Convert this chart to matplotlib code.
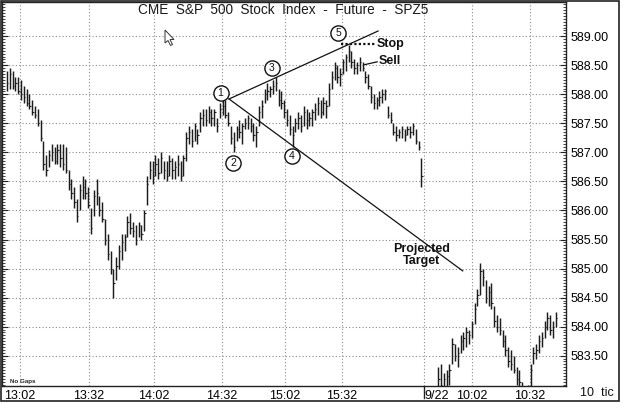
import numpy as np
import matplotlib
matplotlib.use("Agg")
import matplotlib.pyplot as plt
from matplotlib.ticker import FixedLocator, MultipleLocator
from matplotlib.patches import Rectangle, Polygon
import matplotlib.transforms as mtrans

plt.rcParams['font.family'] = ['Liberation Sans', 'DejaVu Sans']

# ---------------- data: 10-tick bars, SPZ5 ----------------
s1_high = [
    588.40, 588.45, 588.40, 588.30, 588.30, 588.25, 588.15, 588.10, 588.00, 587.90,
    587.80, 587.75, 587.55, 587.20, 586.95, 587.05, 587.15, 587.10, 587.15, 587.15,
    587.15, 587.10, 586.70, 586.55, 586.40, 586.20, 586.45, 586.60, 586.55, 586.40,
    586.05, 586.35, 586.55, 586.25, 586.15, 585.85, 585.60, 585.30, 585.00, 585.20,
    585.40, 585.60, 585.60, 585.90, 585.95, 585.80, 585.75, 585.80, 585.75, 586.00,
    586.60, 586.85, 586.85, 586.95, 586.90, 587.00, 586.85, 586.85, 586.95, 586.90,
    586.85, 586.95, 586.85, 586.95, 587.35, 587.45, 587.40, 587.50, 587.40, 587.70,
    587.75, 587.75, 587.80, 587.75, 587.75, 587.60, 587.85, 587.95, 587.90, 587.70,
    587.45, 587.35, 587.45, 587.55, 587.50, 587.60, 587.65, 587.60, 587.50, 587.45,
    587.80, 587.90, 588.10, 588.20, 588.15, 588.25, 588.30, 588.10, 588.05, 587.90,
    587.75, 587.65, 587.45, 587.60, 587.70, 587.65, 587.80, 587.75, 587.70, 587.75,
    587.85, 587.95, 587.90, 587.95, 587.90, 588.20, 588.40, 588.55, 588.50, 588.45,
    588.60, 588.70, 588.85, 588.75, 588.60, 588.55, 588.65, 588.55, 588.40, 588.35,
    588.15, 588.00, 587.95, 588.05, 588.10, 588.10, 587.80, 587.70, 587.50, 587.45,
    587.40, 587.45, 587.40, 587.45, 587.45, 587.50, 587.40, 587.20, 586.90]
s1_low = [
    588.05, 588.10, 588.10, 588.05, 588.00, 587.90, 587.85, 587.80, 587.75, 587.65,
    587.60, 587.45, 587.20, 586.70, 586.60, 586.75, 586.85, 586.80, 586.80, 586.75,
    586.70, 586.65, 586.35, 586.20, 586.05, 585.80, 586.00, 586.20, 586.20, 586.05,
    585.60, 585.90, 586.10, 585.90, 585.80, 585.40, 585.15, 584.90, 584.50, 584.80,
    585.00, 585.15, 585.30, 585.55, 585.60, 585.55, 585.40, 585.55, 585.50, 585.65,
    586.10, 586.55, 586.45, 586.60, 586.55, 586.65, 586.55, 586.50, 586.60, 586.55,
    586.55, 586.60, 586.50, 586.60, 586.85, 587.15, 587.10, 587.20, 587.15, 587.35,
    587.45, 587.45, 587.50, 587.45, 587.45, 587.35, 587.60, 587.65, 587.60, 587.45,
    587.15, 587.00, 587.20, 587.25, 587.15, 587.40, 587.40, 587.35, 587.20, 587.10,
    587.45, 587.60, 587.85, 587.90, 587.95, 588.00, 588.05, 587.80, 587.75, 587.60,
    587.45, 587.30, 587.10, 587.35, 587.40, 587.35, 587.45, 587.40, 587.45, 587.45,
    587.55, 587.65, 587.60, 587.65, 587.60, 587.80, 588.10, 588.25, 588.20, 588.15,
    588.35, 588.40, 588.55, 588.45, 588.35, 588.35, 588.40, 588.40, 588.20, 588.10,
    587.85, 587.75, 587.75, 587.80, 587.85, 587.90, 587.60, 587.50, 587.30, 587.20,
    587.25, 587.25, 587.20, 587.30, 587.25, 587.30, 587.15, 587.05, 586.40]
s1_close = [
    588.20, 588.35, 588.15, 588.20, 588.05, 588.00, 587.95, 587.85, 587.80, 587.70,
    587.65, 587.50, 587.25, 586.80, 586.70, 586.95, 587.00, 586.85, 587.05, 586.90,
    586.80, 586.70, 586.45, 586.30, 586.15, 585.90, 586.35, 586.40, 586.30, 586.10,
    585.70, 586.25, 586.30, 586.00, 585.85, 585.50, 585.25, 585.00, 584.75, 585.05,
    585.30, 585.45, 585.55, 585.80, 585.70, 585.65, 585.50, 585.75, 585.60, 585.95,
    586.45, 586.70, 586.60, 586.80, 586.65, 586.90, 586.70, 586.60, 586.85, 586.70,
    586.75, 586.80, 586.60, 586.90, 587.25, 587.35, 587.20, 587.45, 587.30, 587.60,
    587.65, 587.55, 587.70, 587.60, 587.70, 587.45, 587.75, 587.80, 587.65, 587.50,
    587.25, 587.10, 587.40, 587.35, 587.45, 587.50, 587.60, 587.45, 587.30, 587.35,
    587.70, 587.80, 588.00, 588.05, 588.10, 588.15, 588.20, 587.90, 587.85, 587.70,
    587.55, 587.40, 587.30, 587.50, 587.60, 587.45, 587.70, 587.55, 587.60, 587.70,
    587.75, 587.85, 587.70, 587.85, 587.80, 588.10, 588.30, 588.45, 588.30, 588.35,
    588.55, 588.65, 588.75, 588.55, 588.45, 588.50, 588.55, 588.45, 588.30, 588.15,
    587.95, 587.85, 587.90, 587.95, 588.00, 588.05, 587.65, 587.55, 587.35, 587.30,
    587.35, 587.40, 587.30, 587.40, 587.35, 587.45, 587.20, 587.10, 586.60]

s2_high = [
    583.30, 583.35, 583.20, 583.25, 583.35, 583.80, 583.70, 583.65, 583.85, 583.90,
    584.00, 583.95, 584.10, 584.40, 584.65, 585.10, 585.00, 584.80, 584.70, 584.75,
    584.35, 584.20, 584.15, 583.95, 583.85, 583.65, 583.60, 583.50, 583.30, 583.25,
    583.05, 582.95, 583.00, 583.35, 583.65, 583.70, 583.85, 583.90, 584.10, 584.25,
    584.20, 584.10, 584.25]
s2_low = [
    582.90, 582.95, 582.90, 582.95, 583.00, 583.35, 583.40, 583.30, 583.55, 583.60,
    583.65, 583.70, 583.80, 584.05, 584.35, 584.55, 584.70, 584.40, 584.35, 584.30,
    584.00, 583.90, 583.85, 583.65, 583.50, 583.30, 583.25, 583.20, 583.00, 582.95,
    582.75, 582.70, 582.75, 582.95, 583.35, 583.45, 583.55, 583.65, 583.80, 583.95,
    583.85, 583.80, 584.00]
s2_close = [
    583.10, 583.00, 583.10, 583.15, 583.25, 583.70, 583.50, 583.55, 583.75, 583.80,
    583.90, 583.85, 584.05, 584.30, 584.55, 584.95, 584.85, 584.50, 584.60, 584.40,
    584.10, 584.00, 583.95, 583.75, 583.60, 583.40, 583.35, 583.25, 583.10, 583.05,
    582.85, 582.80, 582.90, 583.25, 583.55, 583.60, 583.75, 583.80, 584.00, 584.15,
    583.95, 584.00, 584.15]

session_gap = 5  # empty bar slots between the two sessions

time_labels = ["13:02", "13:32", "14:02", "14:32", "15:02", "15:32", "9/22", "10:02", "10:32"]
time_bar_pos = [4.6, 29.3, 52.5, 76.8, 99.3, 119.6, 148.9, 166.1, 186.8]

price_ticks = [583.5, 584.0, 584.5, 585.0, 585.5, 586.0, 586.5, 587.0, 587.5, 588.0, 588.5, 589.0]

# Elliott wave annotation (bar position, price)
wave_names = ["1", "2", "3", "4", "5"]
wave_pos = [76.25, 80.8, 94.5, 101.7, 118.3]
wave_price = [588.03, 586.81, 588.45, 586.93, 589.05]
wedge_apex = (79.3, 587.92)
wedge_upper_end = (132.5, 589.09)
wedge_lower_end = (162.75, 584.96)
stop_price = 588.87
stop_span = (119.3, 131.8)
sell_line = [(127.6, 588.51), (132.2, 588.56)]
sell_text = (132.6, 588.57)
target_text = (148.2, 585.23)

# ---------------- figure ----------------
W, H = 625, 403
fig = plt.figure(figsize=(W / 100, H / 100), dpi=100)
fig.patch.set_facecolor("white")
ax = fig.add_axes([2 / W, 1 - 386 / H, 564 / W, 384 / H])

pos1 = np.arange(len(s1_high))
pos2 = np.arange(len(s2_high)) + len(s1_high) + session_gap
pos = np.concatenate([pos1, pos2])
hi = np.array(s1_high + s2_high)
lo = np.array(s1_low + s2_low)
cl = np.array(s1_close + s2_close)

bar_col = "#1c1c1c"
ax.vlines(pos, lo, hi, color=bar_col, lw=1.05, zorder=3)
ax.hlines(cl, pos, pos + 0.5, color=bar_col, lw=0.8, zorder=3)

ax.set_xlim(-1.79, 199.64)
ax.set_ylim(582.978, 589.59)

# grid
grid_kw = dict(color="#8a8a8a", lw=0.8, ls=(0, (1, 2)), zorder=1)
for p in price_ticks:
    ax.axhline(p, **grid_kw)
for t in time_bar_pos:
    ax.axvline(t, **grid_kw)

# axes ticks
ax.yaxis.set_major_locator(FixedLocator(price_ticks))
ax.yaxis.set_minor_locator(MultipleLocator(0.05))
ax.yaxis.set_major_formatter(matplotlib.ticker.FuncFormatter(lambda v, p: f"{v:.2f}"))
ax.tick_params(axis="y", which="both", direction="in", left=True, right=True,
               labelleft=False, labelright=True, labelsize=9, pad=3, color="#222")
ax.tick_params(axis="y", which="major", length=4, width=0.8)
ax.tick_params(axis="y", which="minor", length=2.5, width=0.6)

ax.xaxis.set_major_locator(FixedLocator(time_bar_pos))
ax.set_xticklabels(time_labels)
ax.tick_params(axis="x", which="both", length=0, labelsize=9, pad=3)
for lab, txt in zip(ax.get_xticklabels(), time_labels):
    if txt == "9/22":
        lab.set_ha("left")
# session separator tick below the axis
sep_x = time_bar_pos[time_labels.index("9/22")]
trans = mtrans.blended_transform_factory(ax.transData, ax.transAxes)
ax.plot([sep_x, sep_x], [0, -0.03], transform=trans, color="#222", lw=1.0, clip_on=False)

for s in ax.spines.values():
    s.set_color("#222")
    s.set_linewidth(1.0)

# title
ax.text(0.5 * (135 + 432) / 564 - 2 / 564, 1 - 8.5 / 384,
        "CME  S&P  500  Stock  Index  -  Future  -  SPZ5",
        transform=ax.transAxes, ha="center", va="center", fontsize=9.8, color="#1a1a1a")

# wedge lines
ax.plot([wedge_apex[0], wedge_upper_end[0]], [wedge_apex[1], wedge_upper_end[1]],
        color="#111", lw=0.9, zorder=4)
ax.plot([wedge_apex[0], wedge_lower_end[0]], [wedge_apex[1], wedge_lower_end[1]],
        color="#111", lw=0.9, zorder=4)

# wave circles
ax.scatter(wave_pos, wave_price, s=120, facecolor="white", edgecolor="#111", lw=1.0, zorder=5)
for n, x, y in zip(wave_names, wave_pos, wave_price):
    ax.text(x, y, n, ha="center", va="center", fontsize=7.5, color="#111", zorder=6)

# stop / sell
ax.plot(stop_span, [stop_price, stop_price], color="#111", lw=1.6, ls=(0, (1, 1)), zorder=4)
ax.text(stop_span[1] + 0.3, stop_price, "Stop", ha="left", va="center", fontsize=9,
        fontweight="bold", color="#111")
ax.plot([sell_line[0][0], sell_line[1][0]], [sell_line[0][1], sell_line[1][1]],
        color="#111", lw=0.9, zorder=4)
ax.text(sell_text[0], sell_text[1], "Sell", ha="left", va="center", fontsize=9,
        fontweight="bold", color="#111")
ax.text(target_text[0], target_text[1], "Projected\nTarget", ha="center", va="center",
        fontsize=9, fontweight="bold", color="#111", linespacing=1.05, zorder=6)

# small footer texts
ax.text(10 / 564 - 2 / 564, 1 - (381 - 2) / 384, "No Gaps", transform=ax.transAxes,
        ha="left", va="center", fontsize=4.5, fontweight="bold", color="#222")
fig.text(597 / W, 1 - 393 / H, "10  tic", ha="center", va="center", fontsize=9, color="#111")

# mouse pointer left on the screenshot
cursor_px = [(165, 30), (165, 43), (168, 40.5), (170.5, 45.5), (172.5, 44.5), (170, 39.5), (174, 39.5)]
cursor = Polygon([(x / W, 1 - y / H) for x, y in cursor_px], closed=True, transform=fig.transFigure,
                 facecolor="white", edgecolor="#333", lw=0.7)
fig.add_artist(cursor)

# outer frame
fig.add_artist(Rectangle((0.5 / W, 1 - 401 / H), 618.5 / W, 400 / H, transform=fig.transFigure,
                         fill=False, lw=1.2, edgecolor="#222"))

fig.savefig("out.png", dpi=100)
